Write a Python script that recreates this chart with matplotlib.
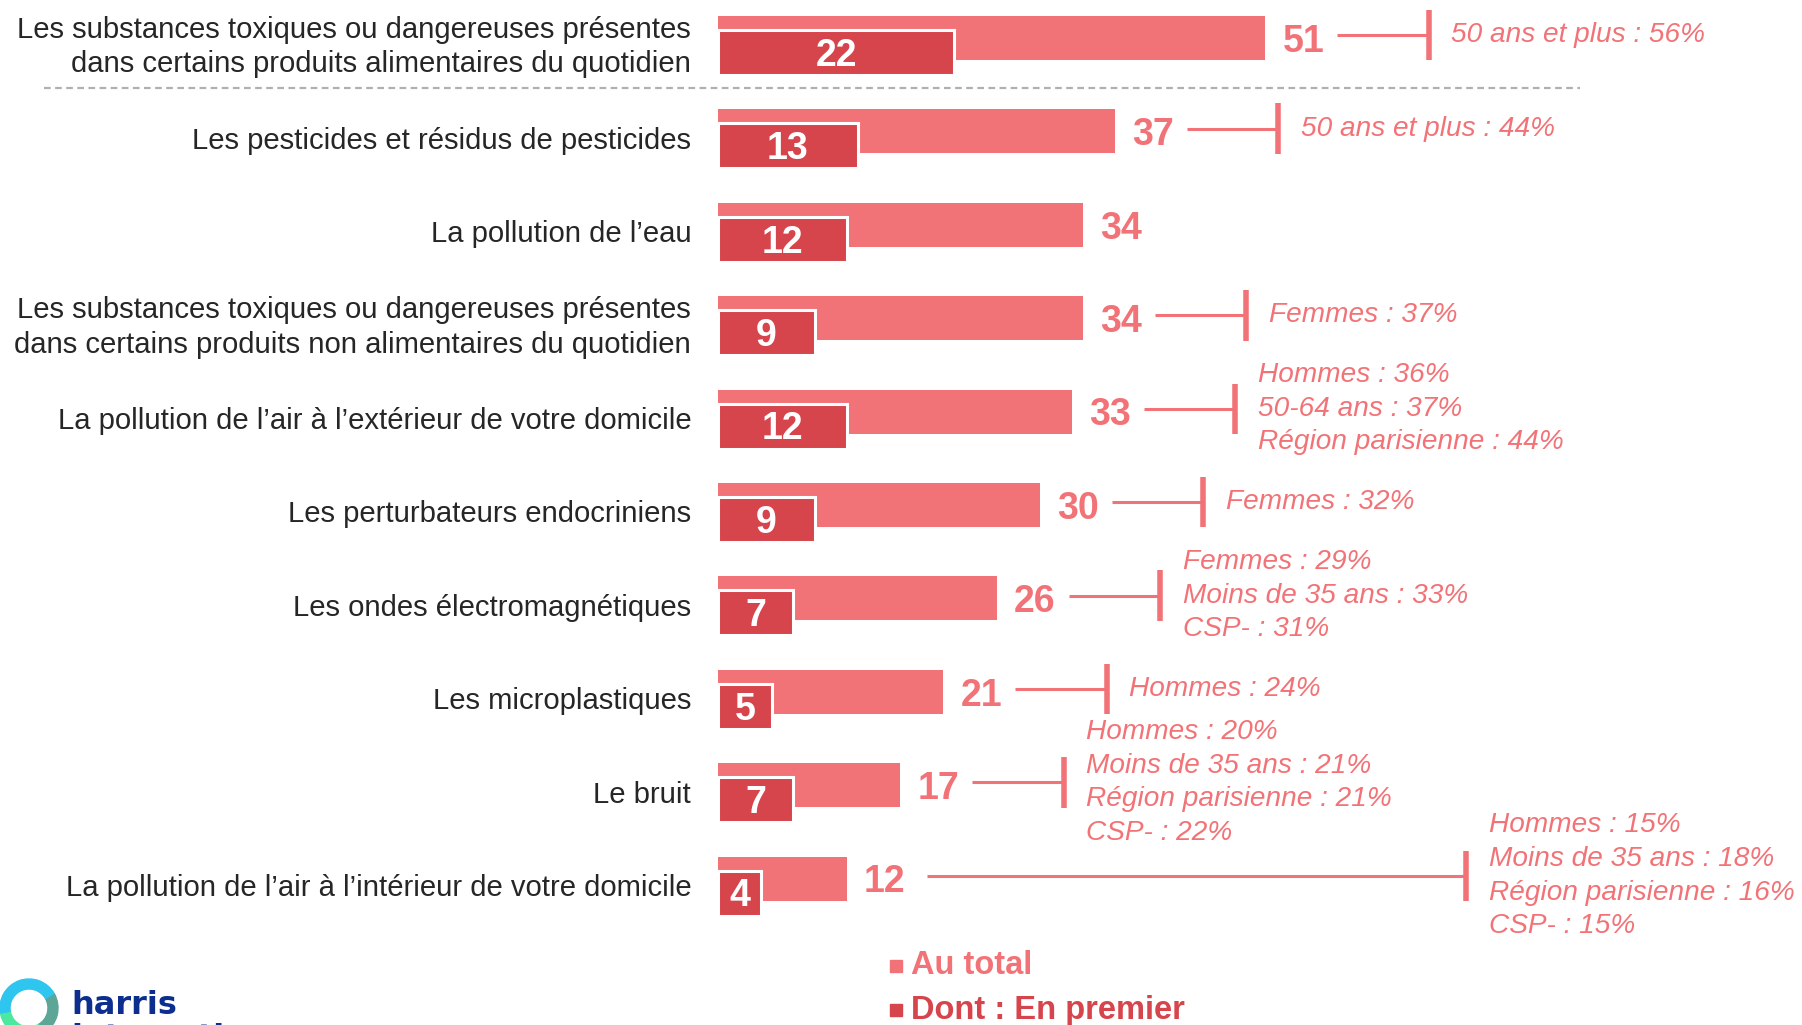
import numpy as np
import matplotlib.pyplot as plt
from matplotlib.patches import Wedge, Rectangle

# data
categories = [
    "Les substances toxiques ou dangereuses présentes\ndans certains produits alimentaires du quotidien",
    "Les pesticides et résidus de pesticides",
    "La pollution de l\u2019eau",
    "Les substances toxiques ou dangereuses présentes\ndans certains produits non alimentaires du quotidien",
    "La pollution de l\u2019air à l\u2019extérieur de votre domicile",
    "Les perturbateurs endocriniens",
    "Les ondes électromagnétiques",
    "Les microplastiques",
    "Le bruit",
    "La pollution de l\u2019air à l\u2019intérieur de votre domicile",
]
au_total = [51, 37, 34, 34, 33, 30, 26, 21, 17, 12]
en_premier = [22, 13, 12, 9, 12, 9, 7, 5, 7, 4]
notes = [
    "50 ans et plus : 56%",
    "50 ans et plus : 44%",
    "",
    "Femmes : 37%",
    "Hommes : 36%\n50-64 ans : 37%\nRégion parisienne : 44%",
    "Femmes : 32%",
    "Femmes : 29%\nMoins de 35 ans : 33%\nCSP- : 31%",
    "Hommes : 24%",
    "Hommes : 20%\nMoins de 35 ans : 21%\nRégion parisienne : 21%\nCSP- : 22%",
    "Hommes : 15%\nMoins de 35 ans : 18%\nRégion parisienne : 16%\nCSP- : 15%",
]
legend_labels = ["Au total", "Dont : En premier"]

light = "#F27377"
dark = "#D6444C"
grey_txt = "#262626"
font = "Liberation Sans"

fig = plt.figure(figsize=(18.02, 10.25), dpi=100)
ax = fig.add_axes([0, 0, 1, 1])
ax.set_xlim(-66.9, 101.0)
ax.set_ylim(10.567, -0.407)
ax.axis("off")

y = np.arange(len(categories))
ax.barh(y, au_total, height=0.47, color=light)
ax.barh(y + 0.155, en_premier, height=0.48, color=dark, edgecolor="white", linewidth=2.2)

for i, (cat, tot, prem, note) in enumerate(zip(categories, au_total, en_premier, notes)):
    ax.text(-2.5, i + 0.1, cat, ha="right", va="center", fontsize=21.1,
            color=grey_txt, family=font, linespacing=1.28)
    ax.text(tot + 1.6, i + 0.04, str(tot), ha="left", va="center", fontsize=27,
            fontweight="bold", color=light, family=font)
    ax.text(prem / 2, i + 0.19, str(prem), ha="center", va="center", fontsize=27,
            fontweight="bold", color="white", family=font)
    if note:
        x0 = tot + 6.7
        xt = tot + 15.2
        if i == len(categories) - 1:
            x0 = tot + 7.5
            xt = 69.7
        ax.plot([x0, xt], [i - 0.03, i - 0.03], color=light, lw=2.2, solid_capstyle="butt")
        ax.plot([xt, xt], [i - 0.3, i + 0.24], color=light, lw=4, solid_capstyle="butt")
        ax.text(xt + 2.1, i - 0.03, note, ha="left", va="center", fontsize=20.2,
                style="italic", color=light, family=font, linespacing=1.38)

# dashed separator under first item
ax.plot([-62.8, 80.3], [0.535, 0.535], color="#B0B0B0", lw=1.6, ls=(0, (3, 2)))

# overlay in pixel coordinates for legend and logo
lax = fig.add_axes([0, 0, 1, 1], facecolor="none")
lax.set_xlim(0, 1802)
lax.set_ylim(1025, 0)
lax.axis("off")

for k, (lab, col) in enumerate(zip(legend_labels, [light, dark])):
    yc = 966 + 44 * k
    lax.add_patch(Rectangle((890, yc - 6), 12, 12, color=col))
    lax.text(911, yc, lab, color=col, fontsize=23.5, fontweight="bold",
             family=font, ha="left", va="center")

# logo (cut at the bottom like in the source)
for t1, t2, c in [(-30, 60, "#5DA596"), (60, 170, "#4CE8A0"), (170, 330, "#2EC5EE")]:
    lax.add_patch(Wedge((29, 1008), 29, t1, t2, width=10, color=c))
lax.text(71, 1014, "harris", fontsize=23, fontweight="bold", color="#0B2E8F",
         family="DejaVu Sans", va="baseline")
lax.text(71, 1047, "interactive", fontsize=23, fontweight="bold", color="#0B2E8F",
         family="DejaVu Sans", va="baseline")

fig.savefig("out.png", dpi=100)
